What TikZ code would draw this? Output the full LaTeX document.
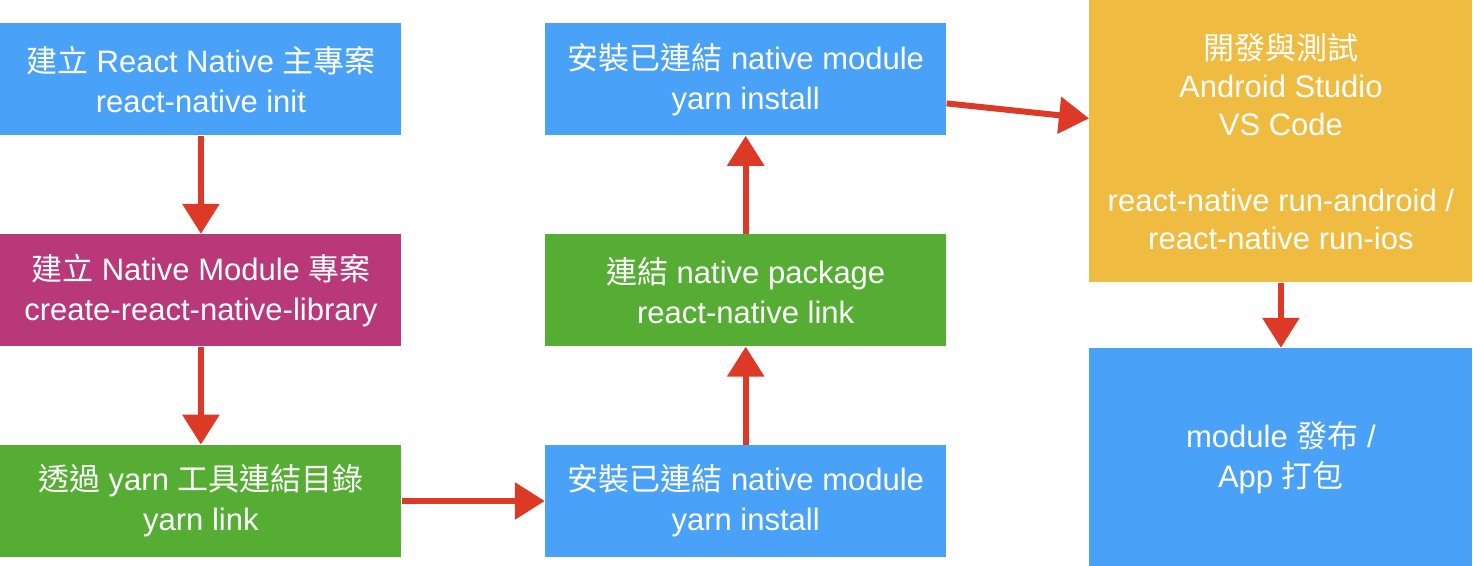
\documentclass[tikz,border=0pt]{standalone}
\usepackage{fontspec}
\setmainfont{Liberation Sans}
\newfontfamily\cjk{Noto Sans CJK TC}
\definecolor{boxBlue}{RGB}{74, 161, 248}
\definecolor{boxMagenta}{RGB}{184, 56, 122}
\definecolor{boxGreen}{RGB}{85, 174, 51}
\definecolor{boxYellow}{RGB}{239, 187, 64}
\definecolor{arrowRed}{RGB}{220, 58, 38}
\usetikzlibrary{arrows.meta,positioning}

\begin{document}
\begin{tikzpicture}[node distance=49pt,
    stepbox/.style={rectangle, draw=none, inner sep=0pt, minimum width=200.5pt, minimum height=56pt, align=center, text=white, font=\fontsize{15.5}{20}\selectfont},
    flow/.style={-{Triangle[width=18pt, length=15pt]}, line width=3pt, arrowRed}]
    \useasboundingbox (0,0) rectangle (736.5pt,-283pt);

    \node[stepbox, fill=boxBlue, anchor=north west] (init) at (0,-11.5pt) {{\cjk 建立} React Native {\cjk 主專案}\\react-native init};
    
    \node[stepbox, fill=boxMagenta, below=of init] (module) {{\cjk 建立} Native Module {\cjk 專案}\\create-react-native-library};
    
    \node[stepbox, fill=boxGreen, below=of module] (yarnlink) {{\cjk 透過} yarn {\cjk 工具連結目錄}\\yarn link};
    
    \node[stepbox, fill=boxBlue, right=71.5pt of yarnlink] (installA) {{\cjk 安裝已連結} native module\\yarn install};
    
    \node[stepbox, fill=boxGreen, above=of installA] (rnlink) {{\cjk 連結} native package\\react-native link};
    
    \node[stepbox, fill=boxBlue, above=of rnlink] (installB) {{\cjk 安裝已連結} native module\\yarn install};
    
    \node[stepbox, fill=boxYellow, minimum width=191.5pt, minimum height=141pt, font=\fontsize{15.5}{19}\selectfont, anchor=north west] (devtest) at (544.5pt,0) {{\cjk 開發與測試}\\Android Studio\\VS Code\\[19pt]react-native run-android /\\react-native run-ios};
    
    \node[stepbox, fill=boxBlue, minimum width=191.5pt, minimum height=109.5pt, below=32.5pt of devtest] (publish) {module {\cjk 發布} /\\App {\cjk 打包}};
    
    \draw[flow] (init) -- (module);
    \draw[flow] (module) -- (yarnlink);
    \draw[flow] (yarnlink) -- (installA);
    \draw[flow] (installA) -- (rnlink);
    \draw[flow] (rnlink) -- (installB);
    \draw[flow] ([yshift=-12pt]installB.east) -- ([yshift=11.5pt]devtest.west);
    \draw[flow] (devtest) -- (publish);
\end{tikzpicture}
\end{document}
